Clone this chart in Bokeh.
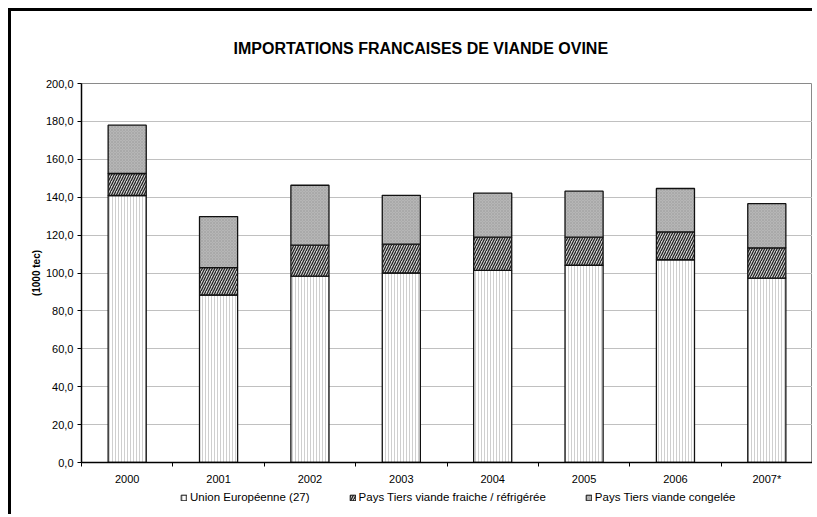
from bokeh.plotting import figure
from bokeh.models import ColumnDataSource, FixedTicker, Legend, LegendItem, Range1d
from bokeh.layouts import column
from bokeh.embed import file_html
from bokeh.resources import INLINE

years = ["2000", "2001", "2002", "2003", "2004", "2005", "2006", "2007*"]
eu = [140.9, 88.4, 98.4, 100.0, 101.4, 104.1, 107.0, 97.3]
fresh = [11.6, 14.4, 16.3, 15.2, 17.5, 14.8, 14.7, 16.0]
frozen = [25.5, 27.0, 31.6, 25.8, 23.2, 24.3, 22.9, 23.3]
series_names = ["Union Européenne (27)", "Pays Tiers viande fraiche / réfrigérée", "Pays Tiers viande congelée"]
y_ticks = [0, 20, 40, 60, 80, 100, 120, 140, 160, 180, 200]
y_tick_labels = ["0,0", "20,0", "40,0", "60,0", "80,0", "100,0", "120,0", "140,0", "160,0", "180,0", "200,0"]
title_text = "IMPORTATIONS FRANCAISES DE VIANDE OVINE"
y_label = "(1000 tec)"

FONT = "Liberation Sans"
STYLES = dict(fill_color=["white", "#cccccc", "#b6b6b6"],
              hatch_pattern=["|", "/", "x"],
              hatch_color=["#cfcfcf", "#1e1e1e", "#9c9c9c"],
              hatch_scale=[3, 5, 3],
              hatch_weight=[1, 1.2, 0.5])

xpos = [i + 0.5 for i in range(len(years))]
src = ColumnDataSource(dict(x=xpos, eu=eu, fresh=fresh, frozen=frozen))

p = figure(width=801, height=479, output_backend="svg", toolbar_location=None,
           x_range=Range1d(0, len(years)), y_range=Range1d(0, 200),
           min_border_left=70, min_border_right=0, min_border_top=72, min_border_bottom=28)

p.title.text = title_text
p.title.text_font = FONT
p.title.text_font_size = "16px"
p.title.text_font_style = "bold"
p.title.text_color = "black"
p.title.align = "left"
p.title.offset = 152
p.title.standoff = 53

p.vbar_stack(["eu", "fresh", "frozen"], x="x", width=0.417, source=src,
             line_color="#111111", line_width=1.3, **STYLES)

# axes
p.xaxis.ticker = FixedTicker(ticks=xpos, minor_ticks=list(range(len(years) + 1)))
p.xaxis.major_label_overrides = {x: y for x, y in zip(xpos, years)}
p.xaxis.major_tick_in = 0
p.xaxis.major_tick_out = 0
p.xaxis.minor_tick_in = 0
p.xaxis.minor_tick_out = 4
p.xaxis.minor_tick_line_color = "black"
p.xaxis.axis_line_color = "black"
p.xaxis.axis_line_width = 1.5
p.xaxis.major_label_text_font = FONT
p.xaxis.major_label_text_font_size = "11px"
p.xaxis.major_label_text_color = "black"
p.xaxis.major_label_standoff = 6

p.yaxis.ticker = FixedTicker(ticks=y_ticks, minor_ticks=[])
p.yaxis.major_label_overrides = {t: l for t, l in zip(y_ticks, y_tick_labels)}
p.yaxis.major_tick_in = 0
p.yaxis.major_tick_out = 4
p.yaxis.axis_line_color = "black"
p.yaxis.axis_line_width = 1.5
p.yaxis.major_label_text_font = FONT
p.yaxis.major_label_text_font_size = "11px"
p.yaxis.major_label_text_color = "black"
p.yaxis.major_label_standoff = 4
p.yaxis.axis_label = y_label
p.yaxis.axis_label_text_font = FONT
p.yaxis.axis_label_text_font_size = "10px"
p.yaxis.axis_label_text_font_style = "bold"
p.yaxis.axis_label_text_color = "black"
p.yaxis.axis_label_standoff = 1

p.xgrid.grid_line_color = None
p.ygrid.ticker = FixedTicker(ticks=y_ticks)
p.ygrid.grid_line_color = "#c0c0c0"
p.ygrid.grid_line_width = 1
p.outline_line_color = "#8a8a8a"
p.outline_line_width = 1

# legend in its own strip below the chart (swatch renderers sit outside the visible range)
lf = figure(width=801, height=24, output_backend="svg", toolbar_location=None,
            x_axis_location=None, y_axis_location=None,
            x_range=Range1d(0, 1), y_range=Range1d(0, 1),
            min_border=0, outline_line_color=None)
lf.xgrid.grid_line_color = None
lf.ygrid.grid_line_color = None
swatch = ColumnDataSource(dict(x=[-5], eu=[0], fresh=[0], frozen=[0]))
lrs = lf.vbar_stack(["eu", "fresh", "frozen"], x="x", width=0.4, source=swatch,
                    line_color="#111111", line_width=1, **STYLES)
legend = Legend(items=[LegendItem(label=n, renderers=[r], index=0) for n, r in zip(series_names, lrs)],
                orientation="horizontal", location=(99, 11),
                glyph_width=7, glyph_height=7, label_standoff=3, spacing=39,
                label_text_font=FONT, label_text_font_size="11.5px",
                label_text_color="black",
                margin=0, padding=1, border_line_color=None, background_fill_alpha=0)
lf.add_layout(legend)

layout = column(p, lf, spacing=0,
                styles={"border-left": "3px solid black", "border-top": "3px solid black",
                        "margin-left": "8px", "margin-top": "8px"})

open("out.html", "w").write(file_html(layout, INLINE))
